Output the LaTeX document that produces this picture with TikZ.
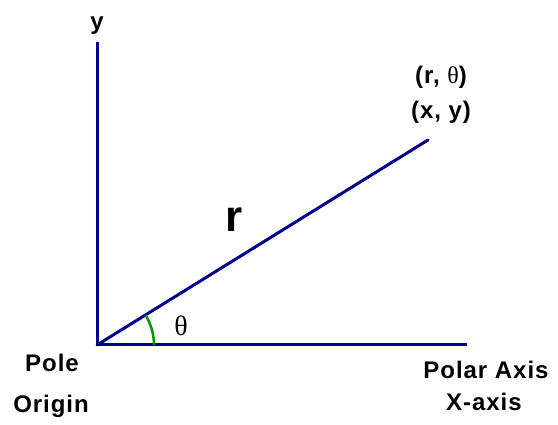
\documentclass[tikz,border=0pt]{standalone}
\usepackage{fontspec}
\usetikzlibrary{calc}
\setmainfont{Liberation Sans}
\newfontfamily\thetafont{Liberation Serif}
\begin{document}
\begin{tikzpicture}[x=1pt,y=-1pt,
  axisline/.style={line width=3pt,draw=navyline},
  lbl/.style={font=\fontsize{24}{28}\selectfont\bfseries\addfontfeature{LetterSpace=4},inner sep=0pt,anchor=base},
]
\definecolor{navyline}{RGB}{0,0,140}
\definecolor{arcgreen}{RGB}{0,150,0}
\useasboundingbox (0,0) rectangle (558,425);
\coordinate (O) at (97,345);
\coordinate (Y) at (97,42);
\coordinate (X) at (467,345);
\coordinate (R) at (428,140);
\draw[axisline] (O) -- (Y);
\draw[axisline] (O) -- (X);
\draw[axisline,line cap=round] (O) -- (R);
\draw[arcgreen,line width=2.5pt] ($(O)+(57,0)$) arc[start angle=0,end angle=-31.8,radius=57];
\node[lbl] (ylab) at (97,30) {y};
\node[font=\fontsize{44}{48}\selectfont\bfseries,inner sep=0pt,anchor=base] (rlab) at (234,232) {r};
\node[font=\fontsize{28}{30}\selectfont\thetafont,inner sep=0pt] (th) at (181,326) {θ};
\node[lbl] (rt) at (441,84) {(r, {\thetafont\mdseries θ})};
\node[lbl] (xy) at (441,119) {(x, y)};
\node[lbl] (pole) at (52,372) {Pole};
\node[lbl] (orig) at (51,413) {Origin};
\node[lbl] (pax) at (486,378) {Polar Axis};
\node[lbl] (xax) at (484,410) {X-axis};
\end{tikzpicture}
\end{document}
